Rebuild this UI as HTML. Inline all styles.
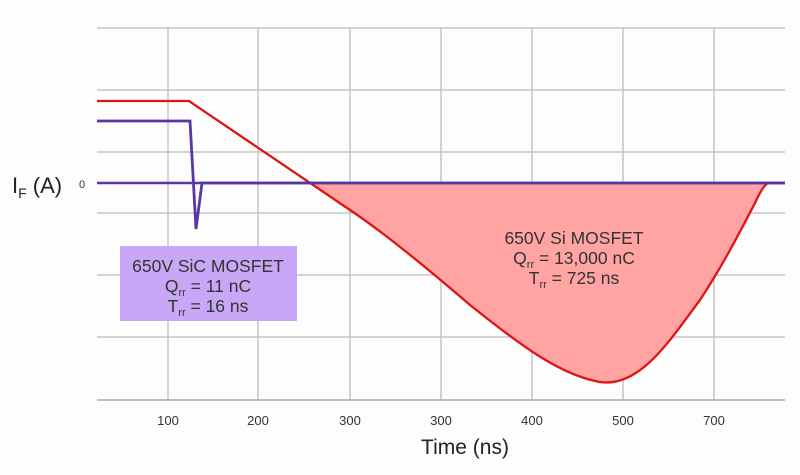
<!DOCTYPE html>
<html><head><style>body{margin:0;background:#fff}svg{display:block}</style></head><body>
<svg width="800" height="475" xmlns="http://www.w3.org/2000/svg" font-family="Liberation Sans, sans-serif">
<rect width="800" height="475" fill="#fdfdfd"/>
<g stroke="#bdbdbd" stroke-width="1.3">
<line x1="97" y1="28" x2="785" y2="28"/><line x1="97" y1="90" x2="785" y2="90"/>
<line x1="97" y1="152" x2="785" y2="152"/><line x1="97" y1="213" x2="785" y2="213"/>
<line x1="97" y1="275" x2="785" y2="275"/><line x1="97" y1="337" x2="785" y2="337"/>
<line x1="168" y1="28" x2="168" y2="400"/><line x1="258" y1="28" x2="258" y2="400"/>
<line x1="350" y1="28" x2="350" y2="400"/><line x1="441" y1="28" x2="441" y2="400"/>
<line x1="532" y1="28" x2="532" y2="400"/><line x1="623" y1="28" x2="623" y2="400"/>
<line x1="714" y1="28" x2="714" y2="400"/>
</g>
<line x1="97" y1="400" x2="785" y2="400" stroke="#aaa" stroke-width="1.5"/>
<path d="M310,183 L350,210 C380,230 420,262 470,305 C520,345 560,375 600,382 C640,388 670,340 700,300 C725,262 745,222 755,203 C760,192 764,185 768,183 Z" fill="#ffa3a3"/>
<path d="M97,101 L189,101 L350,210 C380,230 420,262 470,305 C520,345 560,375 600,382 C640,388 670,340 700,300 C725,262 745,222 755,203 C760,192 764,185 768,183 L785,183" fill="none" stroke="#dd1515" stroke-width="2.3"/>
<path d="M97,121 L190,121 L196,229 L202,183 L785,183" fill="none" stroke="#5a35a8" stroke-width="2.8"/>
<line x1="97" y1="183" x2="785" y2="183" stroke="#5a35a8" stroke-width="2.5"/>
<rect x="120" y="246" width="177" height="75" fill="#c8a8f6"/>
<g fill="#333" font-size="17.5" text-anchor="middle">
<text x="208" y="272">650V SiC MOSFET</text>
<text x="208" y="292">Q<tspan font-size="11" dy="4">rr</tspan><tspan dy="-4"> = 11 nC</tspan></text>
<text x="208" y="312">T<tspan font-size="11" dy="4">rr</tspan><tspan dy="-4"> = 16 ns</tspan></text>
<text x="574" y="244">650V Si MOSFET</text>
<text x="574" y="264">Q<tspan font-size="11" dy="4">rr</tspan><tspan dy="-4"> = 13,000 nC</tspan></text>
<text x="574" y="284">T<tspan font-size="11" dy="4">rr</tspan><tspan dy="-4"> = 725 ns</tspan></text>
</g>
<g fill="#333" font-size="13" text-anchor="middle">
<text x="168" y="425">100</text><text x="258" y="425">200</text><text x="350" y="425">300</text>
<text x="441" y="425">300</text><text x="532" y="425">400</text><text x="623" y="425">500</text>
<text x="714" y="425">700</text>
<text x="82" y="188" font-size="11">0</text>
</g>
<text x="465" y="454" font-size="21" fill="#222" text-anchor="middle">Time (ns)</text>
<text x="12" y="193" font-size="22" fill="#222">I<tspan font-size="14" dy="5">F</tspan><tspan dy="-5"> (A)</tspan></text>
</svg>
</body></html>
